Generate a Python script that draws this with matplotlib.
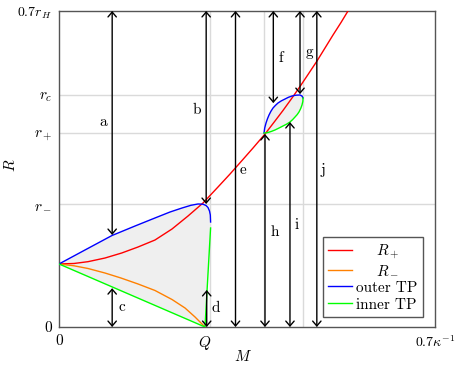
import matplotlib
matplotlib.use("Agg")
import matplotlib.pyplot as plt

plt.rcParams['font.family'] = 'serif'
plt.rcParams['font.serif'] = ['cmr10']
plt.rcParams['mathtext.fontset'] = 'cm'
plt.rcParams['axes.formatter.use_mathtext'] = True

# tick values (in units of kappa^-1 and r_H)
Q = 0.272
r_minus = 0.272
r_plus = 0.430
r_c = 0.514

# R_+ curve
rp_M = [0, 0.0279, 0.0540, 0.0856, 0.1167, 0.1471, 0.1787, 0.2104, 0.2402, 0.2681, 0.2960, 0.3184,
		0.3407, 0.3612, 0.3835, 0.4021, 0.4170, 0.4338, 0.4487, 0.4636, 0.4803, 0.4952, 0.5101, 0.5250, 0.5380]
rp_R = [0.1396, 0.1407, 0.1447, 0.1528, 0.1639, 0.1772, 0.1927, 0.2171, 0.2459, 0.2747, 0.3101, 0.3389,
		0.3688, 0.3965, 0.4275, 0.4563, 0.4796, 0.5073, 0.5328, 0.5593, 0.5892, 0.6180, 0.6468, 0.6745, 0.7000]

# R_- curve
rm_M = [0, 0.0279, 0.0540, 0.0856, 0.1154, 0.1471, 0.1787, 0.2104, 0.2346, 0.2532, 0.2718]
rm_R = [0.1396, 0.1356, 0.1296, 0.1196, 0.1085, 0.0953, 0.0809, 0.0609, 0.0421, 0.0222, 0.0]

# outer turning point, first branch
out1_M = [0, 0.0484, 0.0987, 0.1415, 0.1787, 0.2066, 0.2290, 0.2457, 0.2588, 0.2681, 0.2737, 0.2774,
		  0.2802, 0.2817, 0.2822]
out1_R = [0.1396, 0.1706, 0.2027, 0.2237, 0.2415, 0.2547, 0.2636, 0.2696, 0.2725, 0.2720, 0.2691, 0.2647,
		  0.2569, 0.2481, 0.2326]

# inner turning point, first branch
in1_M = [0, 0.2718, 0.2822]
in1_R = [0.1396, 0.0, 0.2193]

# outer / inner turning point, second branch (between r_+ and r_c)
out2_M = [0.3817, 0.3830, 0.3854, 0.3880, 0.3910, 0.3945, 0.3984, 0.4030, 0.4077, 0.4140, 0.4207,
		  0.4270, 0.4338, 0.4410, 0.4487, 0.4525, 0.4543]
out2_R = [0.4297, 0.4410, 0.4519, 0.4610, 0.4696, 0.4778, 0.4851, 0.4910, 0.4962, 0.5010, 0.5050,
		  0.5088, 0.5117, 0.5135, 0.5139, 0.5115, 0.5073]
in2_M = [0.4543, 0.4540, 0.4524, 0.4500, 0.4468, 0.4434, 0.4394, 0.4350, 0.4300, 0.4240, 0.4170,
		 0.4100, 0.4021, 0.3955, 0.3891, 0.3850, 0.3817]
in2_R = [0.5073, 0.4998, 0.4918, 0.4840, 0.4763, 0.4705, 0.4652, 0.4595, 0.4541, 0.4495, 0.4453,
		 0.4410, 0.4364, 0.4333, 0.4309, 0.4300, 0.4297]

# vertical guide lines
vlines_M = [0.282, 0.381, 0.454]

# arrows: x, bottom, top, label, label position
arrow_M = [0.099, 0.099, 0.274, 0.275, 0.3286, 0.399, 0.4487, 0.3835, 0.430, 0.480]
arrow_lo = [0.2038, 0.0, 0.2725, 0.0, 0.0, 0.496, 0.516, 0.0, 0.0, 0.0]
arrow_hi = [0.7, 0.086, 0.7, 0.082, 0.7, 0.7, 0.7, 0.4275, 0.454, 0.7]
arrow_names = ['a', 'c', 'b', 'd', 'e', 'f', 'g', 'h', 'i', 'j']
label_M = [0.0818, 0.117, 0.257, 0.292, 0.3426, 0.413, 0.467, 0.402, 0.443, 0.4915]
label_R = [0.454, 0.044, 0.481, 0.042, 0.348, 0.596, 0.609, 0.210, 0.226, 0.348]

fig = plt.figure(figsize=(4.62, 3.69), dpi=100)
ax = fig.add_axes([59 / 462, 42 / 369, 376 / 462, 316 / 369])

fill_color = '#efefef'
ax.fill(out1_M + in1_M[::-1], out1_R + in1_R[::-1], color=fill_color, lw=0, zorder=0.5)
ax.fill(out2_M + in2_M, out2_R + in2_R, color=fill_color, lw=0, zorder=0.5)

for yv in [r_minus, r_plus, r_c]:
	ax.axhline(yv, color='#dadada', lw=1.0, zorder=0.3)
for xv in vlines_M:
	ax.axvline(xv, color='#dadada', lw=1.0, zorder=0.3)

ax.plot(rp_M, rp_R, color='#ff0000', lw=1.0, label='    $R_+$', zorder=3)
ax.plot(rm_M, rm_R, color='#ff8000', lw=1.0, label='    $R_-$', zorder=3)
ax.plot(out1_M, out1_R, color='#0000ff', lw=1.0, label='outer TP', zorder=3)
ax.plot(in1_M, in1_R, color='#00ff00', lw=1.0, label='inner TP', zorder=3)
ax.plot(out2_M, out2_R, color='#0000ff', lw=1.0, zorder=3)
ax.plot(in2_M, in2_R, color='#00ff00', lw=1.0, zorder=3)

for x, lo, hi in zip(arrow_M, arrow_lo, arrow_hi):
	ax.annotate('', xy=(x, hi), xytext=(x, lo),
				arrowprops=dict(arrowstyle='<->,head_length=0.35,head_width=0.3',
								color='black', lw=1.0, shrinkA=0, shrinkB=0),
				zorder=4)

for name, lx, ly in zip(arrow_names, label_M, label_R):
	ax.text(lx, ly, name, ha='center', va='center', fontsize=11)

ax.set_xlim(0, 0.7)
ax.set_ylim(0, 0.7)
ax.set_xticks([0, Q, 0.7])
ax.set_xticklabels(['0', '$Q$', '$0.7\\kappa^{-1}$'])
ax.set_yticks([0, r_minus, r_plus, r_c, 0.7])
ax.set_yticklabels(['0', '$r_-$', '$r_+$', '$r_c$', '$0.7r_H$'])
ax.tick_params(length=0, labelsize=11, pad=5)
ax.get_yticklabels()[-1].set_fontsize(10)
ax.get_xticklabels()[-1].set_fontsize(10)
ax.set_xlabel('$M$', fontsize=11)
ax.set_ylabel('$R$', fontsize=11)
ax.xaxis.set_label_coords(0.489, -0.070)
ax.yaxis.set_label_coords(-0.108, 0.513)
for s in ax.spines.values():
	s.set_color('#555555')
	s.set_linewidth(1.0)

leg = ax.legend(loc='lower right', bbox_to_anchor=(0.968, 0.032), borderaxespad=0,
				fontsize=11, fancybox=False, edgecolor='#555555', framealpha=1,
				handlelength=1.6, handletextpad=0.25, labelspacing=0.2, borderpad=0.35)
leg.get_frame().set_linewidth(1.0)

plt.savefig('out.png', dpi=100)
